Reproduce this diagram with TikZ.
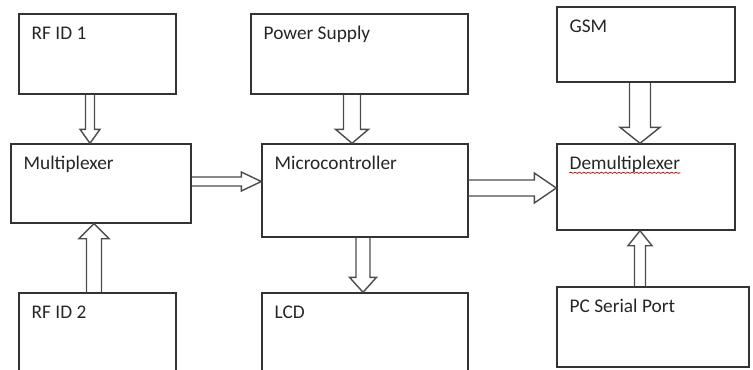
\documentclass[tikz,border=0pt]{standalone}
\usepackage{fontspec}
\setmainfont{Carlito}
\usetikzlibrary{calc,decorations.pathmorphing}
\tikzset{
  box/.style 2 args={draw=black!80, line width=0.8pt, minimum width=#1*0.02cm, minimum height=#2*0.02cm, inner sep=0pt},
  tag/.style={anchor=base west, inner sep=0pt, xshift=0.26cm, yshift=-0.52cm, font=\fontsize{11}{13}\selectfont, text=black!85},
  hollow/.style={draw=black!70, line width=0.8pt, line join=miter},
  squiggle/.style={draw=red!80!black, line width=0.4pt, decorate, decoration={snake, amplitude=0.35pt, segment length=2.5pt}},
}
\newcommand\hollowarrow[5]{% from, to, half shaft, half head, head length
  \path (#1) coordinate (hs) (#2) coordinate (ht);
  \path ($(ht)!#5!(hs)$) coordinate (hb);
  \draw[hollow] ($(hs)!#3!90:(ht)$) -- ($(hb)!#3!-90:(hs)$) -- ($(hb)!#4!-90:(hs)$) -- (ht)
    -- ($(hb)!#4!90:(hs)$) -- ($(hb)!#3!90:(hs)$) -- ($(hs)!#3!-90:(ht)$);
}

\begin{document}
\begin{tikzpicture}[x=0.02cm, y=-0.02cm]
\useasboundingbox (0,0) rectangle (753,369);
\clip (0,0) rectangle (753,369);
\node[box={157}{80}, label={[tag]north west:RF ID 1}] (rfa) at (97.5,54) {};
\node[box={180}{79}, label={[tag]north west:Multiplexer}] (mux) at (101,183.5) {};
\node[box={157}{80}, label={[tag]north west:RF ID 2}] (rfb) at (97.5,333) {};
\node[box={217}{80}, label={[tag]north west:Power Supply}] (pwr) at (359.5,54) {};
\node[box={206}{93}, label={[tag]north west:Microcontroller}] (mcu) at (365,190.5) {};
\node[box={206}{80}, label={[tag]north west:LCD}] (lcd) at (365,333) {};
\node[box={178}{75}, label={[tag]north west:GSM}] (gsm) at (646,44.5) {};
\node[box={178}{86}, label={[tag,name=dmxt]north west:Demultiplexer}] (dmx) at (646,187) {};
\node[box={192}{80}, label={[tag]north west:PC Serial Port}] (pcs) at (653,327) {};
\draw[squiggle] ($(dmxt.base west)+(0,3.5)$) -- ($(dmxt.base east)+(0,3.5)$);
\hollowarrow{$(rfa.south)+(-7.5,0)$}{$(mux.north)+(-11,0)$}{0.09cm}{0.2cm}{0.28cm}
\hollowarrow{$(rfb.north)+(-3.5,0)$}{$(mux.south)+(-7,0)$}{0.15cm}{0.3cm}{0.3cm}
\hollowarrow{$(mux.east)+(0,-2)$}{$(mcu.west)+(0,-9)$}{0.09cm}{0.19cm}{0.4cm}
\hollowarrow{$(pwr.south)+(-7.5,0)$}{$(mcu.north)+(-13,0)$}{0.17cm}{0.33cm}{0.28cm}
\hollowarrow{$(mcu.south)+(-2,0)$}{$(lcd.north)+(-2,0)$}{0.14cm}{0.27cm}{0.3cm}
\hollowarrow{$(mcu.east)+(0,-2.5)$}{$(dmx.west)+(0,1)$}{0.16cm}{0.3cm}{0.44cm}
\hollowarrow{$(gsm.south)+(-6,0)$}{$(dmx.north)+(-6,0)$}{0.21cm}{0.4cm}{0.32cm}
\hollowarrow{$(pcs.north)+(-13,0)$}{$(dmx.south)+(-6,0)$}{0.11cm}{0.24cm}{0.3cm}
\end{tikzpicture}
\end{document}
